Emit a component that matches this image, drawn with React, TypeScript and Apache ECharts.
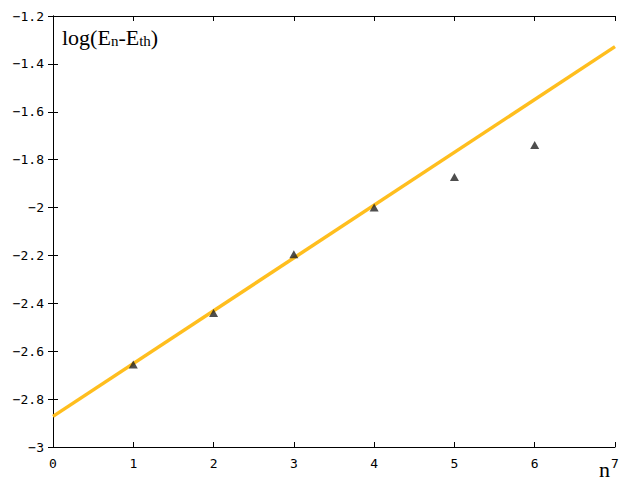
import React, { useEffect, useRef } from "react";
import * as echarts from "echarts";

const nValues = [1, 2, 3, 4, 5, 6];
const logValues = [-2.655, -2.44, -2.195, -2.0, -1.872, -1.739];
const fitX = [0, 7];
const fitY = [-2.872, -1.328];

export default function App() {
  const ref = useRef<HTMLDivElement>(null);
  useEffect(() => {
    const chart = echarts.init(ref.current!, null, { renderer: "svg" });
    const labelFont = { fontFamily: "DejaVu Sans Mono", fontSize: 13, color: "#000" };
    const fmt = (v: number) => String(Math.round(v * 10) / 10).replace("-", "\u2212");
    chart.setOption({
      animation: false,
      backgroundColor: "#fff",
      grid: { left: 53, right: 25, top: 16, bottom: 33, show: false },
      xAxis: [
        {
          type: "value", min: 0, max: 7, interval: 1,
          axisLine: { onZero: false, lineStyle: { color: "#000", width: 1 } },
          axisTick: { inside: true, length: 5, lineStyle: { color: "#000" } },
          axisLabel: { ...labelFont, margin: 10 },
          splitLine: { show: false },
        },
        {
          type: "value", min: 0, max: 7, interval: 1, position: "top",
          axisLine: { lineStyle: { color: "#000", width: 1 } },
          axisTick: { inside: true, length: 5, lineStyle: { color: "#000" } },
          axisLabel: { show: false },
          splitLine: { show: false },
        },
      ],
      yAxis: [
        {
          type: "value", min: -3, max: -1.2, interval: 0.2,
          axisLine: { show: true, onZero: false, lineStyle: { color: "#000", width: 1 } },
          axisTick: { show: true, inside: true, length: 5, lineStyle: { color: "#000" } },
          axisLabel: { ...labelFont, margin: 9, formatter: fmt },
          splitLine: { show: false },
        },
        {
          type: "value", min: -3, max: -1.2, interval: 0.2, position: "right",
          axisLine: { show: true, lineStyle: { color: "#000", width: 1 } },
          axisTick: { show: true, inside: true, length: 5, lineStyle: { color: "#000" } },
          axisLabel: { show: false },
          splitLine: { show: false },
        },
      ],
      series: [
        {
          type: "line",
          data: fitX.map((x, i) => [x, fitY[i]]),
          showSymbol: false,
          lineStyle: { color: "#FFBE1E", width: 3.5 },
          z: 2,
        },
        {
          type: "scatter",
          data: nValues.map((x, i) => [x, logValues[i]]),
          symbol: "triangle",
          symbolSize: [9, 8],
          itemStyle: { color: "#222222" },
          z: 3,
        },
      ],
      graphic: [
        {
          type: "text",
          left: 62,
          top: 26,
          style: {
            text: "log(E{sub|n}-E{sub|th})",
            font: "22px 'Liberation Serif'",
            fill: "#000",
            rich: {
              sub: { fontFamily: "Liberation Serif", fontSize: 15, fill: "#000", padding: [8, 0, 0, 0] },
            },
          },
        },
        {
          type: "text",
          left: 599,
          top: 458,
          style: { text: "n", font: "22px 'Liberation Serif'", fill: "#000" },
        },
      ],
    });
    return () => chart.dispose();
  }, []);
  return (
    <div
      ref={ref}
      style={{ position: "fixed", left: 0, top: 0, width: 640, height: 480 }}
    />
  );
}
